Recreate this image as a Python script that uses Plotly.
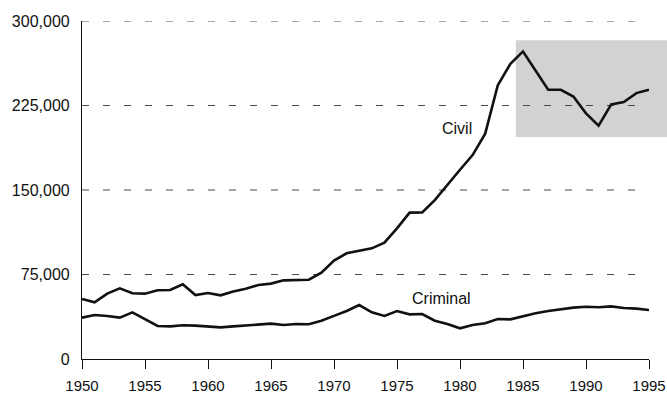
import plotly.graph_objects as go

years = list(range(1950, 1996))
civil = [53300, 50300, 58000, 62700, 58300, 58000, 61000, 61300, 66300, 56800,
         58600, 56500, 60000, 62400, 65700, 66900, 69800, 70100, 70400, 76600,
         87300, 93800, 96100, 98200, 103200, 116000, 129900, 130000, 141000, 155000,
         168000, 181000, 200000, 243000, 262000, 273000, 256000, 239000, 239000, 233000,
         218000, 207000, 226000, 228000, 236000, 239000]
criminal = [36700, 39000, 38200, 36700, 41400, 35500, 29300, 29000, 29900, 29600,
            29000, 28100, 29000, 29900, 30200, 31400, 30200, 31100, 30800, 34000,
            38300, 42600, 47900, 41400, 38200, 42600, 39600, 39900, 34000, 31100,
            27200, 30200, 31700, 35500, 35200, 38200, 40600, 42600, 44100, 45600,
            46400, 45900, 46700, 45300, 44700, 43500]
y_ticks = [0, 75000, 150000, 225000, 300000]
y_tick_labels = ["0", "75,000", "150,000", "225,000", "300,000"]
x_ticks = [1950, 1955, 1960, 1965, 1970, 1975, 1980, 1985, 1990, 1995]
series_labels = [("Civil", 1979.8, 205000), ("Criminal", 1978.5, 53700)]

font = "Liberation Sans, Arial, Helvetica, sans-serif"

fig = go.Figure()
fig.add_trace(go.Scatter(x=years, y=civil, mode="lines",
                         line=dict(color="#111111", width=2.6), showlegend=False))
fig.add_trace(go.Scatter(x=years, y=criminal, mode="lines",
                         line=dict(color="#111111", width=2.6), showlegend=False))

# shaded highlight box
fig.add_shape(type="rect", xref="paper", yref="y", x0=0.765, x1=1.035,
              y0=197000, y1=283000, fillcolor="#d2d2d2", line=dict(width=0),
              layer="below")

# dashed gridlines
for v in y_ticks[1:]:
    fig.add_shape(type="line", xref="paper", yref="y", x0=0, x1=1, y0=v, y1=v,
                  line=dict(color="#4a4a4a", width=1, dash="7px,14px"), layer="below")

for text, x, y in series_labels:
    fig.add_annotation(x=x, y=y, text=text, showarrow=False,
                       font=dict(family=font, size=16, color="#111111"))

fig.update_layout(
    width=667, height=394,
    margin=dict(l=82, r=18, t=21, b=35, autoexpand=False),
    plot_bgcolor="white", paper_bgcolor="white",
    font=dict(family=font, color="#111111"),
)
fig.update_xaxes(range=[1950, 1995], tickvals=x_ticks, showgrid=False, zeroline=False,
                 automargin=False,
                 showline=True, linecolor="#111111", linewidth=1.2,
                 ticks="outside", ticklen=9, tickwidth=1.2, tickcolor="#111111",
                 ticklabelstandoff=4,
                 tickfont=dict(size=15, family=font, color="#111111"))
fig.update_yaxes(range=[0, 300000], tickvals=y_ticks, ticktext=y_tick_labels,
                 automargin=False,
                 showgrid=False, zeroline=False, showline=True, linecolor="#111111",
                 linewidth=1.2, ticks="", ticklabelstandoff=8,
                 tickfont=dict(size=16, family=font, color="#111111"))

fig.write_html("out.html", config={"displayModeBar": False})

# remove the default browser page margin so the figure sits at the window origin
with open("out.html", "r", encoding="utf-8") as f:
    html = f.read()
html = html.replace("<head>", "<head><style>html,body{margin:0;padding:0;overflow:hidden;}</style>", 1)
with open("out.html", "w", encoding="utf-8") as f:
    f.write(html)
